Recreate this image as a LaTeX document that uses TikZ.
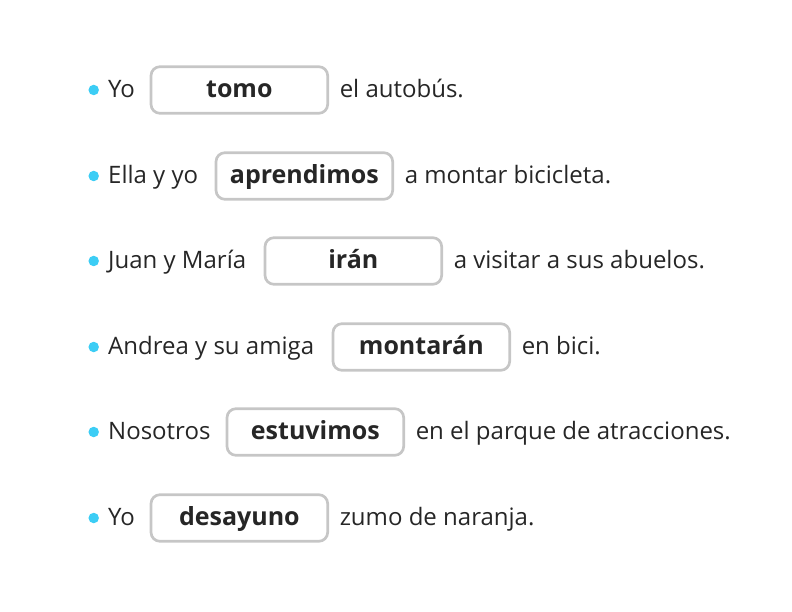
\documentclass[tikz,border=0pt]{standalone}
\usepackage{fontspec}
\setmainfont{Open Sans}
\definecolor{txt}{HTML}{262626}
\definecolor{boxline}{HTML}{C6C6C6}
\definecolor{dotc}{HTML}{3CCDF5}
\begin{document}
\begin{tikzpicture}[x=1pt,y=-1pt,
  plain/.style={inner sep=0pt,anchor=base west,text=txt,font=\fontsize{24}{27}\selectfont},
  wordbox/.style={draw=boxline,line width=2.7pt,rounded corners=9pt,minimum width=176.7pt,minimum height=46.6pt,inner sep=0pt,text height=15.2pt,text depth=0pt,anchor=west,text=txt,font=\fontsize{25}{28}\selectfont\bfseries},
  dot/.style={circle,fill=dotc,inner sep=0pt,minimum size=10.5pt}]
\useasboundingbox (0,0) rectangle (792,612);
\foreach \i/\y/\bx/\pre/\word/\post in {
  1/90/149/Yo/tomo/el autobús.,
  2/176/214/Ella y yo/aprendimos/a montar bicicleta.,
  3/261/263/Juan y María/irán/a visitar a sus abuelos.,
  4/347/331/Andrea y su amiga/montarán/en bici.,
  5/432/225/Nosotros/estuvimos/en el parque de atracciones.,
  6/518/149/Yo/desayuno/zumo de naranja.}{
  \node[dot] (d\i) at (93.7,\y) {};
  \node[plain] (p\i) at (108,\y+7.5) {\pre};
  \node[wordbox] (b\i) at (\bx+0.65,\y) {\word};
  \node[plain] (s\i) at ([xshift=10.5pt,yshift=-7.5pt]b\i.east) {\post};
}
\end{tikzpicture}
\end{document}
